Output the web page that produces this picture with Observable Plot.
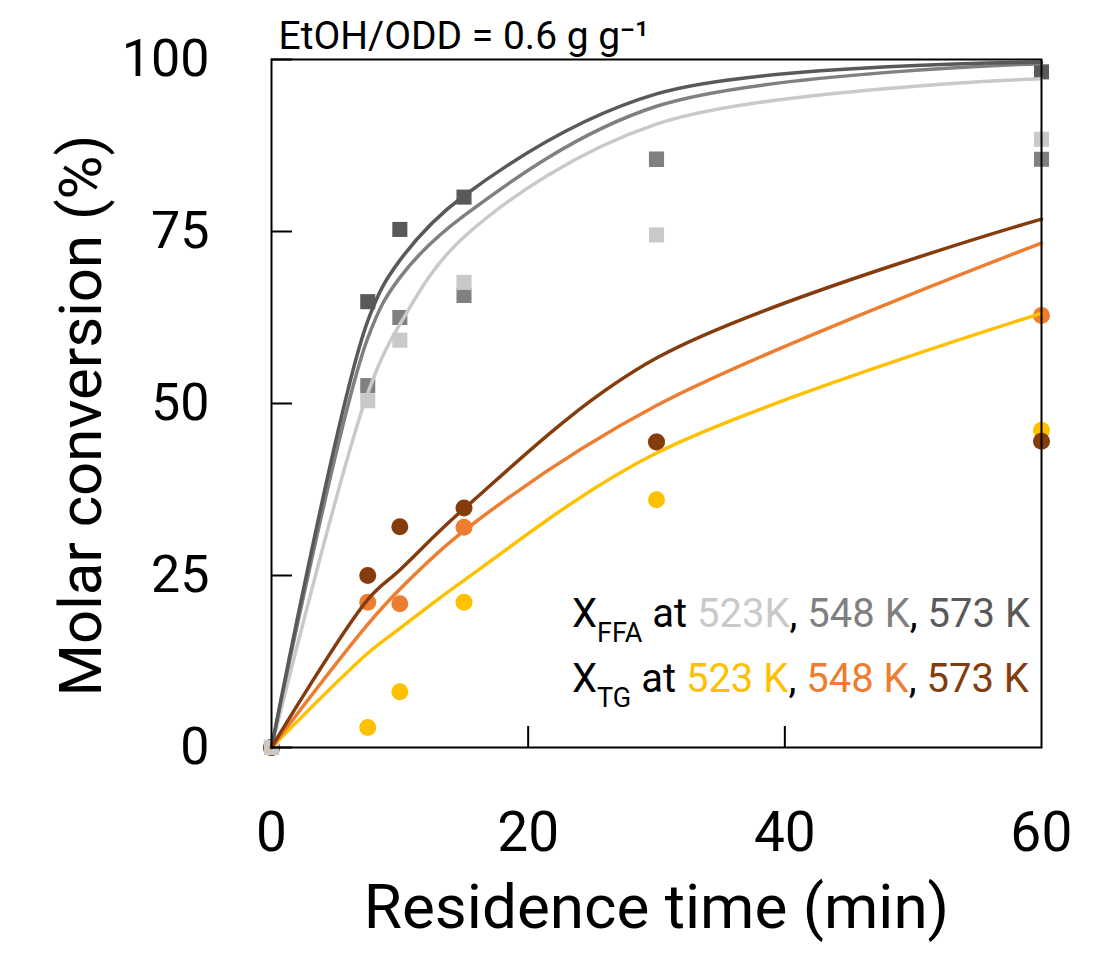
<!DOCTYPE html>
<html>
<head>
<meta charset="utf-8">
<script src="https://cdn.jsdelivr.net/npm/d3@7"></script>
<script src="https://cdn.jsdelivr.net/npm/@observablehq/plot@0.6"></script>
<style>
  body { margin: 0; background: #fff; }
  #wrap { position: relative; width: 1116px; height: 963px; font-family: Roboto, "Liberation Sans", sans-serif; }
  .leg { position: absolute; left: 572px; font-size: 40px; line-height: 40px; white-space: nowrap; color: #000; }
  .leg .sub { font-size: 27px; position: relative; top: 15px; }
</style>
</head>
<body>
<div id="wrap"></div>
<script>
// ---- measured data (residence time in min, molar conversion in %) ----
const time = [0, 7.5, 10, 15, 30, 60];

// X_FFA (squares)
const ffa523 = [0, 50.4, 59.2, 67.6, 74.5, 88.4];
const ffa548 = [0, 52.6, 62.5, 65.7, 85.5, 85.5];
const ffa573 = [0, 64.8, 75.3, 80.0, 85.5, 98.2];

// X_TG (circles)
const tg523 = [0, 2.9, 8.1, 21.1, 36.0, 46.1];
const tg548 = [0, 21.1, 20.9, 32.0, 44.4, 62.8];
const tg573 = [0, 25.0, 32.1, 34.8, 44.4, 44.5];

// ---- model curves at the same residence times ----
const fitFfa573 = [0, 62.0, 70.8, 80.2, 95.0, 99.6];
const fitFfa548 = [0, 59.5, 68.3, 77.3, 93.2, 99.4];
const fitFfa523 = [0, 51.5, 61.5, 74.2, 90.6, 97.2];
const fitTg573 = [0, 21.5, 25.8, 34.7, 56.6, 76.8];
const fitTg548 = [0, 17.9, 23.0, 31.5, 49.7, 73.3];
const fitTg523 = [0, 13.7, 17.3, 24.3, 42.8, 63.1];

// ---- ticks & labels ----
const xTicks = [0, 20, 40, 60];
const yTicks = [0, 25, 50, 75, 100];
const xLabel = "Residence time (min)";
const yLabel = "Molar conversion (%)";
const title = "EtOH/ODD = 0.6 g g⁻¹";

// ---- colours ----
const cLight = "#c9c9c9", cMid = "#808080", cDark = "#595959";
const cYellow = "#ffc000", cOrange = "#ed7d31", cBrown = "#843c0c";

const pts = (ts, vs) => ts.map((t, i) => ({t, v: vs[i]}));

const W = 1116, H = 963;
const mL = 271, mR = 75, mT = 59, mB = 216;
const plotW = W - mL - mR, plotH = H - mT - mB;
const tickLen = 21;

const lineOpts = (stroke) => ({x: "t", y: "v", stroke, strokeWidth: 3.5, curve: "catmull-rom"});
const sq = (fill) => ({x: "t", y: "v", symbol: "square", r: 8.5, fill});
const ci = (fill) => ({x: "t", y: "v", symbol: "circle", r: 8.5, fill});

const chart = Plot.plot({
  width: W,
  height: H,
  marginLeft: mL, marginRight: mR, marginTop: mT, marginBottom: mB,
  style: {fontFamily: "Roboto, 'Liberation Sans', sans-serif", color: "#000", background: "#fff"},
  x: {domain: [0, 60], axis: null},
  y: {domain: [0, 100], axis: null},
  marks: [
    // circles (TG)
    Plot.dot(pts(time, tg523), ci(cYellow)),
    Plot.dot(pts(time, tg548), ci(cOrange)),
    Plot.dot(pts(time, tg573), ci(cBrown)),
    // squares (FFA)
    Plot.dot(pts(time, ffa573), sq(cDark)),
    Plot.dot(pts(time, ffa548), sq(cMid)),
    Plot.dot(pts(time, ffa523), sq(cLight)),
    // model lines
    Plot.line(pts(time, fitFfa523), lineOpts(cLight)),
    Plot.line(pts(time, fitFfa548), lineOpts(cMid)),
    Plot.line(pts(time, fitFfa573), lineOpts(cDark)),
    Plot.line(pts(time, fitTg523), lineOpts(cYellow)),
    Plot.line(pts(time, fitTg548), lineOpts(cOrange)),
    Plot.line(pts(time, fitTg573), lineOpts(cBrown)),
    // frame and inward ticks
    Plot.frame({stroke: "#000", strokeWidth: 2}),
    Plot.tickY(yTicks, {y: d => d, stroke: "#000", strokeWidth: 2, insetRight: plotW - tickLen}),
    Plot.tickX(xTicks.slice(1, -1), {x: d => d, stroke: "#000", strokeWidth: 2, insetTop: plotH - tickLen}),
    // tick labels
    Plot.axisY(yTicks, {anchor: "left", tickSize: 0, tickPadding: 62, fontSize: 52, label: null, tickFormat: d => d}),
    Plot.axisX(xTicks, {anchor: "bottom", tickSize: 0, tickPadding: 64, fontSize: 55, label: null, tickFormat: d => d}),
    // axis titles and header
    Plot.text([xLabel], {frameAnchor: "bottom", dy: 180, fontSize: 62, text: d => d}),
    Plot.text([yLabel], {frameAnchor: "left", textAnchor: "middle", rotate: -90, dx: -190, dy: 12, fontSize: 60, text: d => d}),
    Plot.text([title], {frameAnchor: "top-left", textAnchor: "start", dx: 7, dy: -38, fontSize: 39, text: d => d})
  ]
});

const wrap = document.getElementById("wrap");
wrap.appendChild(chart);

const legendLines = [
  {top: 594, sub: "FFA", parts: [["523K", cLight], ["548 K", cMid], ["573 K", cDark]]},
  {top: 659, sub: "TG", parts: [["523 K", cYellow], ["548 K", cOrange], ["573 K", cBrown]]}
];
for (const L of legendLines) {
  const div = document.createElement("div");
  div.className = "leg";
  div.style.top = L.top + "px";
  let html = `X<span class="sub">${L.sub}</span> at `;
  html += L.parts.map(([t, c]) => `<span style="color:${c}">${t}</span>`).join(", ");
  div.innerHTML = html;
  wrap.appendChild(div);
}
</script>
</body>
</html>
